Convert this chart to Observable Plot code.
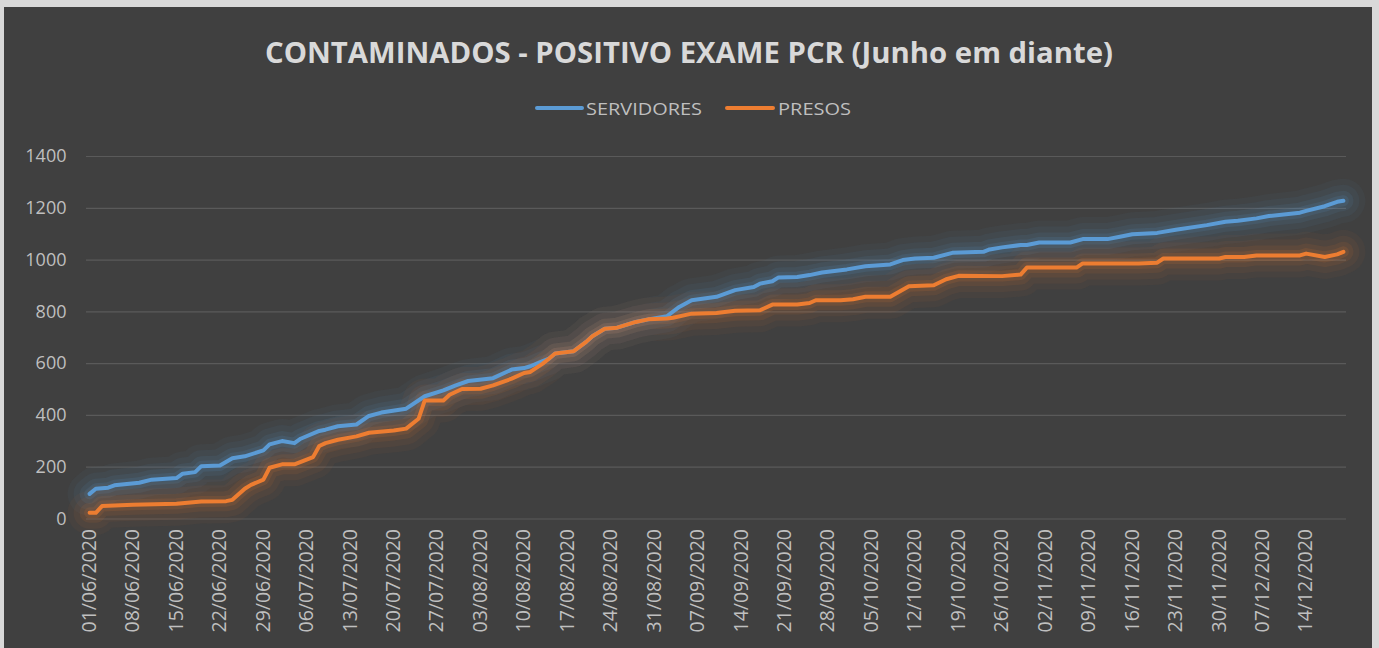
<!DOCTYPE html>
<html>
<head>
<meta charset="utf-8">
<script src="https://cdn.jsdelivr.net/npm/d3@7"></script>
<script src="https://cdn.jsdelivr.net/npm/@observablehq/plot@0.6"></script>
<style>
  html, body { margin: 0; padding: 0; background: #d9d9d9; width: 1379px; height: 648px; overflow: hidden; }
  #panel { position: absolute; left: 4px; top: 7px; width: 1368px; height: 641px; background: #404040; }
  #header { position: absolute; left: 0; top: 0; }
  #chart { position: absolute; left: 0; top: 120px; }
</style>
</head>
<body>
<div id="panel"></div>
<svg id="header" width="1379" height="130"></svg>
<div id="chart"></div>
<script>
const titleText = "CONTAMINADOS - POSITIVO EXAME PCR (Junho em diante)";
const seriesNames = ["SERVIDORES", "PRESOS"];
const seriesColors = ["#5b9bd5", "#ed7d31"];

const yTicks = [0, 200, 400, 600, 800, 1000, 1200, 1400];
const xTickDates = ["2020-06-01","2020-06-08","2020-06-15","2020-06-22","2020-06-29","2020-07-06","2020-07-13","2020-07-20","2020-07-27","2020-08-03","2020-08-10","2020-08-17","2020-08-24","2020-08-31","2020-09-07","2020-09-14","2020-09-21","2020-09-28","2020-10-05","2020-10-12","2020-10-19","2020-10-26","2020-11-02","2020-11-09","2020-11-16","2020-11-23","2020-11-30","2020-12-07","2020-12-14"];

const servidoresDates = ["2020-06-01","2020-06-02","2020-06-04","2020-06-05","2020-06-09","2020-06-11","2020-06-15","2020-06-16","2020-06-18","2020-06-19","2020-06-22","2020-06-24","2020-06-26","2020-06-29","2020-06-30","2020-07-02","2020-07-04","2020-07-05","2020-07-08","2020-07-09","2020-07-11","2020-07-14","2020-07-16","2020-07-18","2020-07-22","2020-07-25","2020-07-28","2020-07-30","2020-08-01","2020-08-05","2020-08-08","2020-08-10","2020-08-11","2020-08-13","2020-08-14","2020-08-15","2020-08-18","2020-08-20","2020-08-21","2020-08-23","2020-08-25","2020-08-28","2020-08-30","2020-09-02","2020-09-04","2020-09-06","2020-09-10","2020-09-13","2020-09-16","2020-09-17","2020-09-19","2020-09-20","2020-09-23","2020-09-25","2020-09-27","2020-10-01","2020-10-04","2020-10-08","2020-10-10","2020-10-12","2020-10-15","2020-10-18","2020-10-23","2020-10-24","2020-10-26","2020-10-29","2020-10-30","2020-11-01","2020-11-06","2020-11-08","2020-11-12","2020-11-14","2020-11-16","2020-11-20","2020-11-23","2020-11-28","2020-12-01","2020-12-03","2020-12-06","2020-12-08","2020-12-13","2020-12-14","2020-12-17","2020-12-19","2020-12-20"];
const servidoresValues = [97,117,121,130,140,152,158,175,181,204,207,235,242,265,288,301,293,310,340,345,358,365,398,411,426,474,497,516,533,544,577,583,590,610,619,639,648,684,706,735,739,761,771,783,819,845,858,884,896,909,918,933,935,942,952,964,976,983,1000,1006,1009,1028,1032,1041,1049,1058,1058,1068,1068,1081,1081,1090,1100,1105,1117,1135,1148,1152,1161,1170,1183,1190,1208,1225,1229];

const presosDates = ["2020-06-01","2020-06-02","2020-06-03","2020-06-08","2020-06-15","2020-06-19","2020-06-23","2020-06-24","2020-06-26","2020-06-27","2020-06-29","2020-06-30","2020-07-02","2020-07-04","2020-07-07","2020-07-08","2020-07-09","2020-07-11","2020-07-14","2020-07-16","2020-07-20","2020-07-22","2020-07-24","2020-07-25","2020-07-28","2020-07-29","2020-07-31","2020-08-03","2020-08-05","2020-08-08","2020-08-10","2020-08-11","2020-08-13","2020-08-14","2020-08-15","2020-08-18","2020-08-20","2020-08-21","2020-08-23","2020-08-25","2020-08-28","2020-08-30","2020-09-02","2020-09-03","2020-09-06","2020-09-10","2020-09-13","2020-09-17","2020-09-19","2020-09-23","2020-09-25","2020-09-26","2020-09-30","2020-10-02","2020-10-04","2020-10-08","2020-10-11","2020-10-15","2020-10-17","2020-10-19","2020-10-26","2020-10-29","2020-10-30","2020-11-07","2020-11-08","2020-11-17","2020-11-20","2020-11-21","2020-11-30","2020-12-01","2020-12-04","2020-12-06","2020-12-13","2020-12-14","2020-12-17","2020-12-19","2020-12-20"];
const presosValues = [24,24,50,55,59,68,69,74,117,132,152,198,211,211,239,282,293,306,319,333,342,349,387,458,458,480,502,503,516,542,564,568,600,619,639,648,684,706,735,739,761,771,774,777,793,796,804,806,828,828,834,845,845,849,858,858,899,903,926,939,938,944,971,971,987,987,990,1006,1006,1012,1012,1018,1018,1025,1012,1022,1032];

const parse = d3.utcParse("%Y-%m-%d");
const rows = [
  ...servidoresDates.map((d, i) => ({date: parse(d), value: servidoresValues[i], series: seriesNames[0]})),
  ...presosDates.map((d, i) => ({date: parse(d), value: presosValues[i], series: seriesNames[1]}))
];
const serv = rows.filter(r => r.series === seriesNames[0]);
const pres = rows.filter(r => r.series === seriesNames[1]);

// header (title + legend)
const header = d3.select("#header");
header.append("text")
  .attr("x", 689).attr("y", 63)
  .attr("text-anchor", "middle")
  .attr("font-family", "'Open Sans', sans-serif")
  .attr("font-weight", "bold")
  .attr("font-size", 29)
  .attr("fill", "#d9d9d9")
  .attr("textLength", 848)
  .attr("lengthAdjust", "spacingAndGlyphs")
  .text(titleText);
const legendItems = [
  {x1: 537, x2: 582, tx: 586, tw: 116},
  {x1: 727, x2: 773, tx: 778, tw: 73}
];
legendItems.forEach((it, i) => {
  header.append("line").attr("x1", it.x1).attr("x2", it.x2).attr("y1", 108).attr("y2", 108)
    .attr("stroke", seriesColors[i]).attr("stroke-width", 4).attr("stroke-linecap", "round");
  header.append("text").attr("x", it.tx).attr("y", 114.5)
    .attr("font-family", "'Open Sans', sans-serif").attr("font-size", 17)
    .attr("fill", "#bfbfbf")
    .attr("textLength", it.tw).attr("lengthAdjust", "spacingAndGlyphs")
    .text(seriesNames[i]);
});

const glow = (data, color) => [
  Plot.line(data, {x: "date", y: "value", stroke: color, strokeWidth: 44, strokeOpacity: 0.045, strokeLinejoin: "round", strokeLinecap: "round"}),
  Plot.line(data, {x: "date", y: "value", stroke: color, strokeWidth: 32, strokeOpacity: 0.06, strokeLinejoin: "round", strokeLinecap: "round"}),
  Plot.line(data, {x: "date", y: "value", stroke: color, strokeWidth: 20, strokeOpacity: 0.09, strokeLinejoin: "round", strokeLinecap: "round"}),
  Plot.line(data, {x: "date", y: "value", stroke: color, strokeWidth: 11, strokeOpacity: 0.12, strokeLinejoin: "round", strokeLinecap: "round"})
];

const chart = Plot.plot({
  width: 1379,
  height: 528,
  marginLeft: 86,
  marginRight: 33,
  marginTop: 36,
  marginBottom: 129.5,
  style: {background: "transparent", color: "#bfbfbf", fontFamily: "'Open Sans', sans-serif"},
  x: {type: "utc", domain: [new Date(Date.UTC(2020, 4, 31, 12)), new Date(Date.UTC(2020, 11, 20, 12))]},
  y: {domain: [0, 1400]},
  marks: [
    Plot.gridY(yTicks, {stroke: "#5a5a5a", strokeOpacity: 1, strokeWidth: 1.2}),
    ...glow(serv, seriesColors[0]),
    ...glow(pres, seriesColors[1]),
    Plot.line(serv, {x: "date", y: "value", stroke: seriesColors[0], strokeWidth: 4, strokeLinejoin: "round"}),
    Plot.line(pres, {x: "date", y: "value", stroke: seriesColors[1], strokeWidth: 4, strokeLinejoin: "round"}),
    Plot.axisY(yTicks, {tickSize: 0, tickPadding: 20, fontSize: 18, tickFormat: d3.format("d"), label: null}),
    Plot.axisX(xTickDates.map(parse), {tickSize: 0, tickPadding: 10, tickRotate: -90, fontSize: 19.5, tickFormat: d3.utcFormat("%d/%m/%Y"), label: null})
  ]
});
document.getElementById("chart").appendChild(chart);
</script>
</body>
</html>
